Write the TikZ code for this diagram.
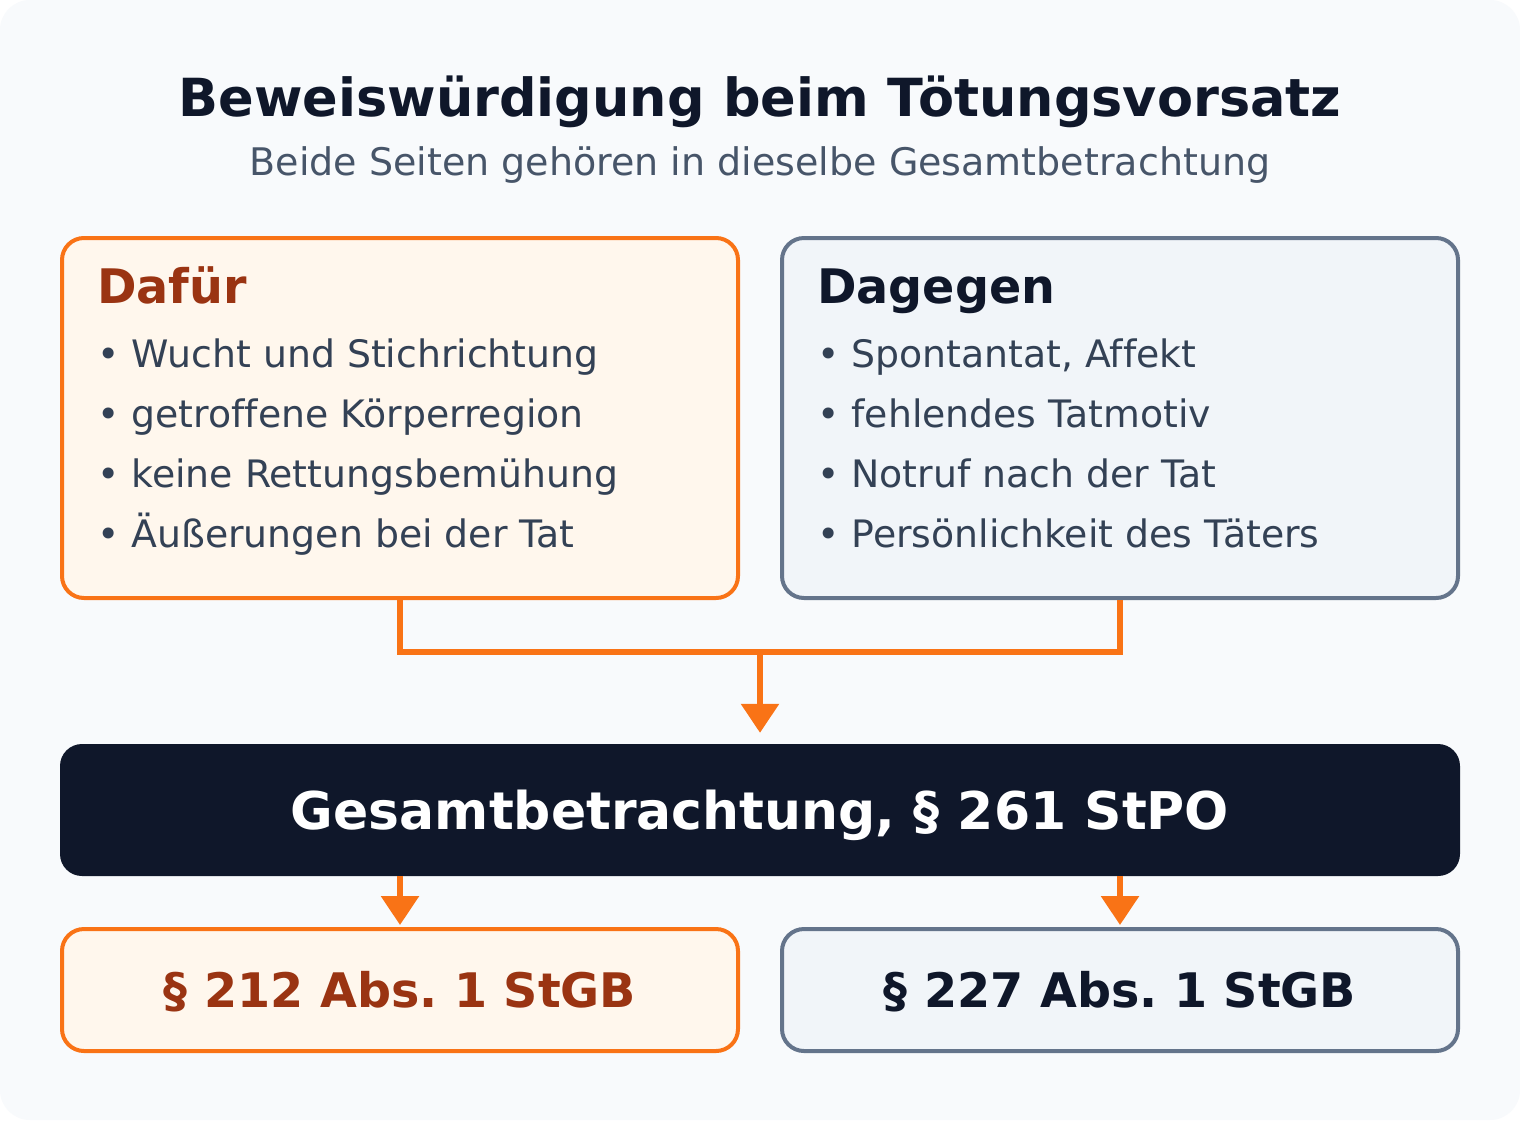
\documentclass[tikz,border=0pt]{standalone}
\usepackage{fontspec}
\setmainfont[Ligatures=NoCommon]{DejaVu Sans}
\usetikzlibrary{arrows.meta}
\definecolor{bgc}{HTML}{F8FAFC}
\definecolor{orangec}{HTML}{F97316}
\definecolor{orangefill}{HTML}{FFF7ED}
\definecolor{rustc}{HTML}{9A3412}
\definecolor{slatec}{HTML}{64748B}
\definecolor{slatefill}{HTML}{F1F5F9}
\definecolor{navyc}{HTML}{0F172A}
\definecolor{bodyc}{HTML}{334155}
\definecolor{subc}{HTML}{475569}
\newcommand\fsBig{\fontsize{52.5}{62}\selectfont}
\newcommand\fsMid{\fontsize{52}{62}\selectfont}
\newcommand\fsHead{\fontsize{47.6}{56}\selectfont}
\newcommand\fsBody{\fontsize{37.8}{44}\selectfont}
\newcommand\fsSub{\fontsize{38}{44}\selectfont}
\frenchspacing
\tikzset{
  panel/.style={rectangle, rounded corners=22pt, line width=4pt, minimum width=676pt, inner sep=0pt},
  probox/.style={panel, draw=orangec, fill=orangefill},
  conbox/.style={panel, draw=slatec, fill=slatefill},
  darkbox/.style={rectangle, rounded corners=22pt, fill=navyc, minimum width=1400pt, minimum height=132pt, inner sep=0pt, text=white, font=\bfseries\fsMid, text height=38pt, text depth=0pt},
  headtxt/.style={anchor=base west, inner sep=0pt, font=\bfseries\fsHead},
  itemtxt/.style={anchor=base west, inner sep=0pt, font=\fsBody, text=bodyc},
  conn/.style={draw=orangec, line width=6pt},
  arrowconn/.style={conn, -{Triangle[width=37pt,length=29pt]}},
}
\begin{document}
\begin{tikzpicture}[x=1pt,y=-1pt]
\useasboundingbox (0,0) rectangle (1520,1120);
\fill[white] (0,0) rectangle (1520,1120);
\fill[bgc, rounded corners=30pt] (0,0) rectangle (1520,1120);

% title
\node[anchor=base, inner sep=0pt, font=\bfseries\fsBig, text=navyc] (title) at (760,116) {Beweiswürdigung beim Tötungsvorsatz};
\node[anchor=base, inner sep=0pt, font=\fsSub, text=subc] (subtitle) at (760,175) {Beide Seiten gehören in dieselbe Gesamtbetrachtung};

% panels
\node[probox, minimum height=360pt] (pro) at (400,418) {};
\node[conbox, minimum height=360pt] (con) at (1120,418) {};

\node[headtxt, text=rustc] (prohead) at (97,303) {Dafür};
\node[itemtxt] (pro1) at (97,367) {• Wucht und Stichrichtung};
\node[itemtxt] (pro2) at (97,427) {• getroffene Körperregion};
\node[itemtxt] (pro3) at (97,487) {• keine Rettungsbemühung};
\node[itemtxt] (pro4) at (97,547) {• Äußerungen bei der Tat};

\node[headtxt, text=navyc] (conhead) at (817,303) {Dagegen};
\node[itemtxt] (con1) at (817,367) {• Spontantat, Affekt};
\node[itemtxt] (con2) at (817,427) {• fehlendes Tatmotiv};
\node[itemtxt] (con3) at (817,487) {• Notruf nach der Tat};
\node[itemtxt] (con4) at (817,547) {• Persönlichkeit des Täters};

% overall
\node[darkbox] (gesamt) at (760,810) {Gesamtbetrachtung, § 261 StPO};

% results
\node[probox, minimum height=122pt, text=rustc, font=\bfseries\fsHead, text height=35pt, text depth=0pt] (res1) at (400,990) {§ 212 Abs. 1 StGB};
\node[conbox, minimum height=122pt, text=navyc, font=\bfseries\fsHead, text height=35pt, text depth=0pt] (res2) at (1120,990) {§ 227 Abs. 1 StGB};

% connectors
\coordinate (join) at (760,652);
\draw[conn] (pro.south) -- ++(0,52) -| (con.south);
\draw[arrowconn, shorten >=11pt] (join) -- (gesamt.north);
\draw[arrowconn, shorten >=2pt] (gesamt.south -| res1.north) -- (res1.north);
\draw[arrowconn, shorten >=2pt] (gesamt.south -| res2.north) -- (res2.north);
\end{tikzpicture}
\end{document}
